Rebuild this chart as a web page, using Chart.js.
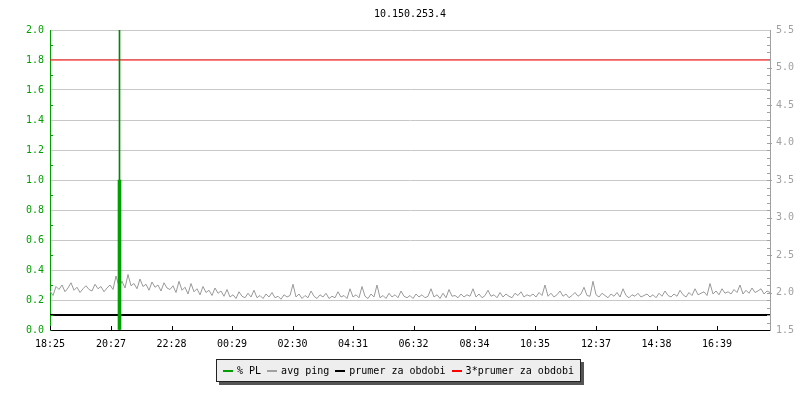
<!DOCTYPE html>
<html>
<head>
<meta charset="utf-8">
<script src="https://cdn.jsdelivr.net/npm/chart.js@4/dist/chart.umd.min.js"></script>
<style>
  body { margin: 0; background: #fff; }
  #wrap { position: relative; width: 800px; height: 400px; }
  #titulek { position: absolute; left: 0; top: 8px; width: 820px; text-align: center;
    font: 10px "DejaVu Sans Mono", monospace; color: #000; }
  #legenda { position: absolute; left: 216px; top: 359px; width: 363px; height: 21px;
    background: #eeeeee; border: 1px solid #222; box-shadow: 3px 3px 0 #555;
    font: 10px "DejaVu Sans Mono", monospace; color: #000;
    display: flex; align-items: center; justify-content: center; gap: 6px; }
  #legenda span.sw { display: inline-block; width: 10px; height: 2px; margin-right: 4px; vertical-align: middle; }
</style>
</head>
<body>
<div id="wrap">
  <canvas id="graf" width="800" height="400"></canvas>
  <div id="titulek">10.150.253.4</div>
  <div id="legenda"></div>
</div>
<script>
// casova osa - minuty od 18:25
const casMax = 1440;
const tickMinuty = [0, 122, 243, 364, 485, 606, 727, 849, 970, 1092, 1213, 1334];
const tickPopisky = ['18:25', '20:27', '22:28', '00:29', '02:30', '04:31', '06:32', '08:34', '10:35', '12:37', '14:38', '16:39'];

// % PL (packet loss)
const plMinuty = [139];
const plHodnoty = [1.0];
const plMaxHodnoty = [2.4];

// avg ping [ms], vzorek kazdych 6 minut
const pingKrok = 6;
const avgPing = [
  2.02, 1.96, 2.08, 2.04, 2.10, 2.01, 2.06, 2.13, 2.03, 2.07, 2.00, 2.05, 2.09, 2.04, 2.02, 2.11, 2.05, 2.08, 2.01, 2.06,
  2.10, 2.04, 2.22, 2.08, 2.15, 2.06, 2.24, 2.09, 2.12, 2.05, 2.18, 2.08, 2.11, 2.03, 2.14, 2.07, 2.10, 2.02, 2.13, 2.06,
  2.04, 2.09, 2.00, 2.15, 2.03, 2.07, 1.98, 2.12, 2.01, 2.05, 1.97, 2.08, 2.00, 2.03, 1.96, 2.06, 1.99, 2.02, 1.95, 2.04,
  1.94, 1.97, 1.92, 2.01, 1.95, 1.93, 1.99, 1.94, 2.03, 1.93, 1.96, 1.92, 1.98, 1.94, 2.00, 1.93, 1.95, 1.91, 1.97, 1.94,
  1.96, 2.11, 1.94, 1.98, 1.92, 1.96, 1.93, 2.02, 1.95, 1.92, 1.97, 1.94, 1.99, 1.92, 1.95, 1.93, 2.01, 1.94, 1.96, 1.92,
  2.05, 1.94, 1.97, 1.93, 2.08, 1.95, 1.92, 1.98, 1.94, 2.10, 1.93, 1.96, 1.92, 1.99, 1.94, 1.97, 1.93, 2.02, 1.95, 1.93,
  1.96, 1.92, 1.98, 1.94, 1.97, 1.93, 1.95, 2.05, 1.94, 1.97, 1.92, 1.99, 1.93, 2.04, 1.95, 1.96, 1.93, 1.98, 1.94, 1.97,
  1.95, 2.05, 1.94, 1.98, 1.93, 1.96, 2.03, 1.95, 1.97, 1.93, 2.00, 1.94, 1.98, 1.95, 1.93, 1.99, 1.96, 2.01, 1.94, 1.97,
  1.95, 1.98, 1.94, 2.00, 1.96, 2.10, 1.95, 1.99, 1.94, 1.97, 2.02, 1.95, 1.98, 1.93, 1.96, 2.00, 1.95, 1.98, 2.07, 1.96,
  1.95, 2.15, 1.97, 1.94, 1.99, 1.96, 1.93, 1.98, 1.95, 2.00, 1.94, 2.05, 1.96, 1.93, 1.97, 1.95, 1.99, 1.94, 1.96, 1.98,
  1.94, 1.97, 1.93, 1.99, 1.95, 2.02, 1.96, 1.94, 1.98, 1.95, 2.03, 1.97, 1.94, 2.00, 1.96, 2.05, 1.97, 1.99, 2.01, 1.96,
  2.12, 1.98, 2.02, 1.97, 2.05, 1.99, 2.01, 1.98, 2.04, 2.00, 2.10, 1.98, 2.03, 1.99, 2.06, 2.00, 2.02, 2.05, 1.98, 2.02,
  2.00
];

// prumer za obdobi a jeho trojnasobek [ms]
const prumer = 1.7;
const prumer3 = 5.1;

const zelena = '#00a000';
const seda = '#a0a0a0';
const mrizka = '#c8c8c8';
const pismo = { family: 'DejaVu Sans Mono', size: 10 };

// legenda jako html (box se stinem)
const polozky = [['% PL', zelena], ['avg ping', seda], ['prumer za obdobi', '#000'], ['3*prumer za obdobi', '#ff0000']];
document.getElementById('legenda').innerHTML = polozky
  .map(p => `<span><span class="sw" style="background:${p[1]}"></span>${p[0]}</span>`).join('');

// kratke znacky uvnitr grafu (jako rrdtool)
const vnitrniZnacky = {
  id: 'vnitrniZnacky',
  afterDraw(chart) {
    const ctx = chart.ctx;
    const sx = chart.scales.x, sy = chart.scales.y, sy2 = chart.scales.y2;
    const a = chart.chartArea;
    ctx.save();
    ctx.lineWidth = 1;
    ctx.strokeStyle = '#000';
    tickMinuty.forEach(m => {
      const x = Math.round(sx.getPixelForValue(m)) + 0.5;
      ctx.beginPath(); ctx.moveTo(x, a.bottom); ctx.lineTo(x, a.bottom - 4); ctx.stroke();
    });
    ctx.strokeStyle = zelena;
    for (let i = 1; i < 20; i += 2) {
      const y = Math.round(sy.getPixelForValue(i / 10)) + 0.5;
      ctx.beginPath(); ctx.moveTo(a.left, y); ctx.lineTo(a.left + 3, y); ctx.stroke();
    }
    ctx.strokeStyle = seda;
    for (let i = 16; i < 55; i++) {
      const y = Math.round(sy2.getPixelForValue(i / 10)) + 0.5;
      const major = i % 5 === 0;
      ctx.beginPath(); ctx.moveTo(a.right - 3, y); ctx.lineTo(a.right + (major ? 2 : 0), y); ctx.stroke();
    }
    ctx.restore();
  }
};

new Chart(document.getElementById('graf'), {
  type: 'line',
  data: {
    datasets: [
      {
        type: 'bar', label: '% PL', order: 0, grouped: false, barThickness: 3,
        backgroundColor: zelena, yAxisID: 'y',
        data: plMinuty.map((m, i) => ({ x: m, y: plHodnoty[i] }))
      },
      {
        type: 'bar', label: '% PL max', order: 1, grouped: false, barThickness: 1,
        backgroundColor: '#008800', yAxisID: 'y',
        data: plMinuty.map((m, i) => ({ x: m, y: plMaxHodnoty[i] }))
      },
      {
        label: 'avg ping', order: 4, yAxisID: 'y2', borderColor: '#999999', borderWidth: 1,
        pointRadius: 0, tension: 0,
        data: avgPing.map((v, i) => ({ x: i * pingKrok, y: v }))
      },
      {
        label: 'prumer za obdobi', order: 3, yAxisID: 'y2', borderColor: '#000', borderWidth: 2,
        pointRadius: 0, data: [{ x: 0, y: prumer }, { x: casMax, y: prumer }]
      },
      {
        label: '3*prumer za obdobi', order: 2, yAxisID: 'y2', borderColor: '#ff0000', borderWidth: 1,
        pointRadius: 0, data: [{ x: 0, y: prumer3 }, { x: casMax, y: prumer3 }]
      }
    ]
  },
  options: {
    responsive: false,
    animation: false,
    layout: { padding: { top: 30, left: 0, right: 0, bottom: 0 } },
    plugins: { legend: { display: false }, tooltip: { enabled: false } },
    scales: {
      x: {
        type: 'linear', min: 0, max: casMax, offset: false,
        afterBuildTicks: s => { s.ticks = tickMinuty.map(v => ({ value: v })); },
        afterFit: s => { s.height = 70; },
        grid: { drawOnChartArea: false, drawTicks: false },
        border: { color: '#000' },
        ticks: { font: pismo, color: '#000', padding: 8, maxRotation: 0, autoSkip: false,
          callback: (v, i) => tickPopisky[i] }
      },
      y: {
        position: 'left', min: 0, max: 2.0,
        afterFit: s => { s.width = 50; },
        grid: { color: mrizka, drawTicks: false },
        border: { color: zelena },
        ticks: { stepSize: 0.2, font: pismo, color: zelena, padding: 6,
          callback: v => v.toFixed(1) }
      },
      y2: {
        position: 'right', min: 1.5, max: 5.5,
        afterFit: s => { s.width = 30; },
        grid: { drawOnChartArea: false, drawTicks: false },
        border: { color: seda },
        ticks: { stepSize: 0.5, font: pismo, color: seda, padding: 6,
          callback: v => v.toFixed(1) }
      }
    }
  },
  plugins: [vnitrniZnacky]
});
</script>
</body>
</html>
